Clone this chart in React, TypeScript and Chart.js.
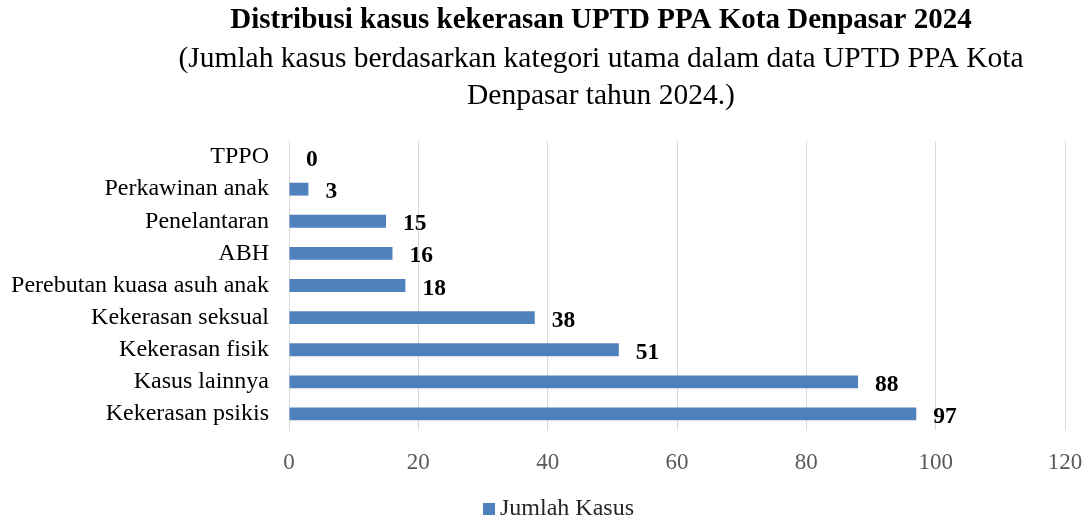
import React, { useEffect, useRef } from "react";
import { Chart, registerables } from "chart.js";

Chart.register(...registerables);

const categories = [
  "TPPO",
  "Perkawinan anak",
  "Penelantaran",
  "ABH",
  "Perebutan kuasa asuh anak",
  "Kekerasan seksual",
  "Kekerasan fisik",
  "Kasus lainnya",
  "Kekerasan psikis",
];
const values = [0, 3, 15, 16, 18, 38, 51, 88, 97];
const seriesName = "Jumlah Kasus";
const titleText = "Distribusi kasus kekerasan UPTD PPA Kota Denpasar 2024";
const subtitleLines = [
  "(Jumlah kasus berdasarkan kategori utama dalam data UPTD PPA Kota",
  "Denpasar tahun 2024.)",
];
const xMin = 0;
const xMax = 120;
const xStep = 20;

const FONT = "'Liberation Serif', 'Times New Roman', serif";
const BAR_COLOR = "#4f81bd";

const titlePlugin = {
  id: "customTitle",
  afterDraw(chart: any) {
    const ctx = chart.ctx;
    ctx.save();
    ctx.fillStyle = "#000";
    ctx.textAlign = "center";
    ctx.textBaseline = "middle";
    const cx = 601;
    ctx.font = `bold 29px ${FONT}`;
    ctx.fillText(titleText, cx, 21);
    ctx.font = `29.5px ${FONT}`;
    ctx.fillText(subtitleLines[0], cx, 59);
    ctx.fillText(subtitleLines[1], cx, 96);
    ctx.restore();
  },
};

const valueLabelPlugin = {
  id: "valueLabels",
  afterDatasetsDraw(chart: any) {
    const ctx = chart.ctx;
    const meta = chart.getDatasetMeta(0);
    ctx.save();
    ctx.fillStyle = "#000";
    ctx.font = `bold 23.5px ${FONT}`;
    ctx.textAlign = "left";
    ctx.textBaseline = "middle";
    meta.data.forEach((el: any, i: number) => {
      ctx.fillText(String(values[i]), el.x + 17, el.y + 3);
    });
    ctx.restore();
  },
};

const legendPlugin = {
  id: "customLegend",
  afterDraw(chart: any) {
    const ctx = chart.ctx;
    ctx.save();
    ctx.fillStyle = BAR_COLOR;
    ctx.fillRect(483, 503, 12, 12);
    ctx.fillStyle = "#262626";
    ctx.font = `24px ${FONT}`;
    ctx.textAlign = "left";
    ctx.textBaseline = "middle";
    ctx.fillText(seriesName, 500, 509);
    ctx.restore();
  },
};

export default function App() {
  const ref = useRef<HTMLCanvasElement>(null);
  useEffect(() => {
    document.body.style.margin = "0";
    document.body.style.overflow = "hidden";
    if (!ref.current) return;
    const chart = new Chart(ref.current, {
      type: "bar",
      data: {
        labels: categories,
        datasets: [
          {
            label: seriesName,
            data: values,
            backgroundColor: BAR_COLOR,
            borderWidth: 0,
            barPercentage: 0.5,
            categoryPercentage: 0.8,
          },
        ],
      },
      options: {
        indexAxis: "y",
        animation: false,
        responsive: false,
        maintainAspectRatio: false,
        layout: { padding: { top: 141, left: 12, right: 24, bottom: 46 } },
        scales: {
          x: {
            min: xMin,
            max: xMax,
            ticks: {
              stepSize: xStep,
              color: "#595959",
              font: { family: FONT, size: 23, lineHeight: 1 },
              padding: 21,
            },
            grid: { color: "#d9d9d9", lineWidth: 1, drawTicks: false },
            border: { display: false },
            afterFit(s: any) {
              s.height = 44;
              s.paddingLeft = 0;
              s.paddingRight = 0;
            },
          },
          y: {
            ticks: {
              color: "#000",
              font: { family: FONT, size: 24 },
              padding: 20,
              autoSkip: false,
            },
            grid: { display: false, drawTicks: false },
            border: { display: true, color: "#d9d9d9" },
            afterFit(s: any) {
              s.width = 277;
              s.paddingTop = 0;
              s.paddingBottom = 0;
            },
          },
        },
        plugins: {
          legend: { display: false },
          tooltip: { enabled: false },
          title: { display: false },
        },
      },
      plugins: [titlePlugin, valueLabelPlugin, legendPlugin],
    });
    return () => chart.destroy();
  }, []);
  return (
    <div style={{ width: 1089, height: 520 }}>
      <canvas ref={ref} width={1089} height={520} style={{ display: "block" }} />
    </div>
  );
}
